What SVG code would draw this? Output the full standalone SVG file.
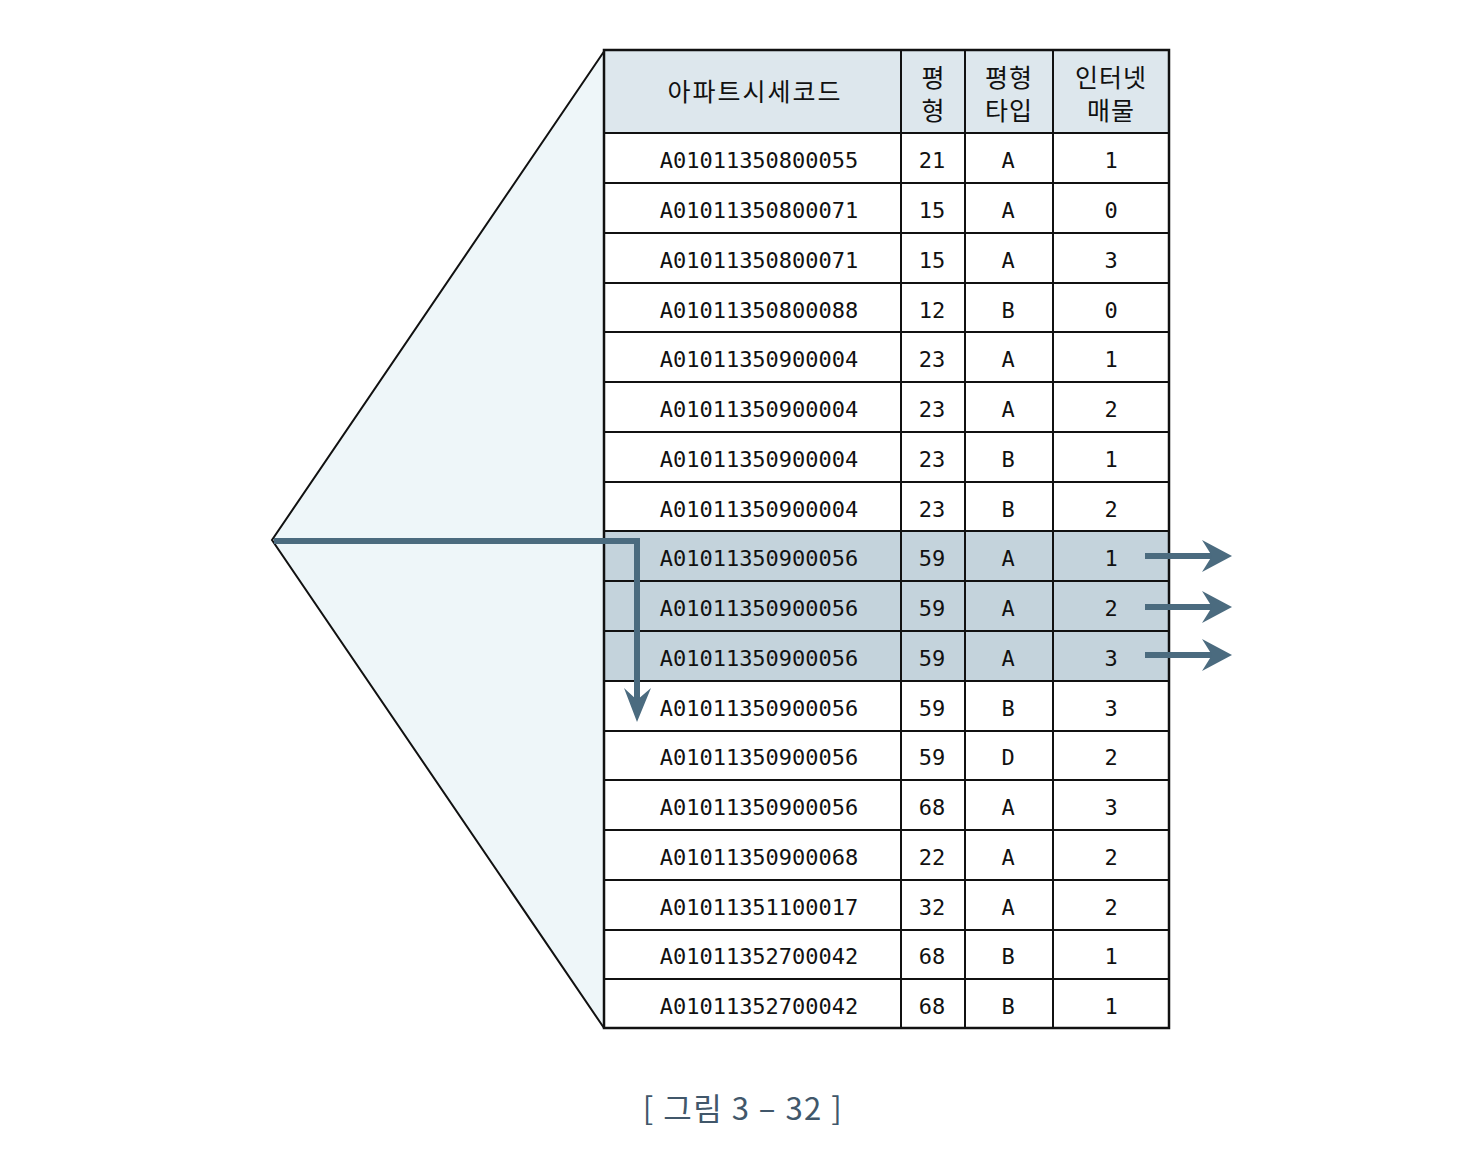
<svg xmlns="http://www.w3.org/2000/svg" width="1476" height="1166" viewBox="0 0 1476 1166">
<style>
.t{font-family:"DejaVu Sans Mono","Liberation Mono",monospace;font-size:22px;fill:#111;text-anchor:middle}
.h{font-family:"Noto Sans CJK KR","Noto Sans",sans-serif;font-size:25px;fill:#111;text-anchor:middle}
.g{stroke:#111;stroke-width:2;fill:none}
.arr{stroke:#4b6b7f;stroke-width:6;fill:none}
.ah{fill:#4b6b7f}
.cap{font-family:"Noto Sans CJK KR","Noto Sans",sans-serif;font-size:31px;fill:#41576a;text-anchor:middle}
</style>
<rect width="1476" height="1166" fill="#fff"/>
<g id="funnel">
<polygon points="272,540 605,50 605,1028" fill="#eef6f9"/>
<polyline points="605,50 272,540 604,1028" fill="none" stroke="#111" stroke-width="2"/>
</g>
<g id="table">
<rect x="604" y="50" width="565" height="83" fill="#dde7ed"/>
<rect x="604" y="133" width="565" height="895" fill="#fff"/>
<rect x="604" y="531" width="565" height="150" fill="#c4d3dc"/>
<g class="g">
<rect x="604" y="50" width="565" height="978" stroke-width="2.5"/>
<line x1="901" y1="50" x2="901" y2="1028"/>
<line x1="965" y1="50" x2="965" y2="1028"/>
<line x1="1053" y1="50" x2="1053" y2="1028"/>
<line x1="604" y1="133" x2="1169" y2="133"/>
<line x1="604" y1="183" x2="1169" y2="183"/>
<line x1="604" y1="233" x2="1169" y2="233"/>
<line x1="604" y1="283" x2="1169" y2="283"/>
<line x1="604" y1="332" x2="1169" y2="332"/>
<line x1="604" y1="382" x2="1169" y2="382"/>
<line x1="604" y1="432" x2="1169" y2="432"/>
<line x1="604" y1="482" x2="1169" y2="482"/>
<line x1="604" y1="531" x2="1169" y2="531"/>
<line x1="604" y1="581" x2="1169" y2="581"/>
<line x1="604" y1="631" x2="1169" y2="631"/>
<line x1="604" y1="681" x2="1169" y2="681"/>
<line x1="604" y1="731" x2="1169" y2="731"/>
<line x1="604" y1="780" x2="1169" y2="780"/>
<line x1="604" y1="830" x2="1169" y2="830"/>
<line x1="604" y1="880" x2="1169" y2="880"/>
<line x1="604" y1="930" x2="1169" y2="930"/>
<line x1="604" y1="979" x2="1169" y2="979"/>
</g>
<g id="header">
<text class="h" x="755" y="101" letter-spacing="2">아파트시세코드</text>
<text class="h" x="933" y="87">평</text>
<text class="h" x="933" y="120">형</text>
<text class="h" x="1009" y="87" letter-spacing="1">평형</text>
<text class="h" x="1009" y="120" letter-spacing="1">타입</text>
<text class="h" x="1111" y="87" letter-spacing="1">인터넷</text>
<text class="h" x="1111" y="120" letter-spacing="1">매물</text>
</g>
<g id="rows">
<text class="t" x="759" y="168">A01011350800055</text><text class="t" x="932" y="168">21</text><text class="t" x="1008" y="168">A</text><text class="t" x="1111" y="168">1</text>
<text class="t" x="759" y="218">A01011350800071</text><text class="t" x="932" y="218">15</text><text class="t" x="1008" y="218">A</text><text class="t" x="1111" y="218">0</text>
<text class="t" x="759" y="268">A01011350800071</text><text class="t" x="932" y="268">15</text><text class="t" x="1008" y="268">A</text><text class="t" x="1111" y="268">3</text>
<text class="t" x="759" y="318">A01011350800088</text><text class="t" x="932" y="318">12</text><text class="t" x="1008" y="318">B</text><text class="t" x="1111" y="318">0</text>
<text class="t" x="759" y="367">A01011350900004</text><text class="t" x="932" y="367">23</text><text class="t" x="1008" y="367">A</text><text class="t" x="1111" y="367">1</text>
<text class="t" x="759" y="417">A01011350900004</text><text class="t" x="932" y="417">23</text><text class="t" x="1008" y="417">A</text><text class="t" x="1111" y="417">2</text>
<text class="t" x="759" y="467">A01011350900004</text><text class="t" x="932" y="467">23</text><text class="t" x="1008" y="467">B</text><text class="t" x="1111" y="467">1</text>
<text class="t" x="759" y="517">A01011350900004</text><text class="t" x="932" y="517">23</text><text class="t" x="1008" y="517">B</text><text class="t" x="1111" y="517">2</text>
<text class="t" x="759" y="566">A01011350900056</text><text class="t" x="932" y="566">59</text><text class="t" x="1008" y="566">A</text><text class="t" x="1111" y="566">1</text>
<text class="t" x="759" y="616">A01011350900056</text><text class="t" x="932" y="616">59</text><text class="t" x="1008" y="616">A</text><text class="t" x="1111" y="616">2</text>
<text class="t" x="759" y="666">A01011350900056</text><text class="t" x="932" y="666">59</text><text class="t" x="1008" y="666">A</text><text class="t" x="1111" y="666">3</text>
<text class="t" x="759" y="716">A01011350900056</text><text class="t" x="932" y="716">59</text><text class="t" x="1008" y="716">B</text><text class="t" x="1111" y="716">3</text>
<text class="t" x="759" y="765">A01011350900056</text><text class="t" x="932" y="765">59</text><text class="t" x="1008" y="765">D</text><text class="t" x="1111" y="765">2</text>
<text class="t" x="759" y="815">A01011350900056</text><text class="t" x="932" y="815">68</text><text class="t" x="1008" y="815">A</text><text class="t" x="1111" y="815">3</text>
<text class="t" x="759" y="865">A01011350900068</text><text class="t" x="932" y="865">22</text><text class="t" x="1008" y="865">A</text><text class="t" x="1111" y="865">2</text>
<text class="t" x="759" y="915">A01011351100017</text><text class="t" x="932" y="915">32</text><text class="t" x="1008" y="915">A</text><text class="t" x="1111" y="915">2</text>
<text class="t" x="759" y="964">A01011352700042</text><text class="t" x="932" y="964">68</text><text class="t" x="1008" y="964">B</text><text class="t" x="1111" y="964">1</text>
<text class="t" x="759" y="1014">A01011352700042</text><text class="t" x="932" y="1014">68</text><text class="t" x="1008" y="1014">B</text><text class="t" x="1111" y="1014">1</text>
</g>
</g>
<g id="connectors">
<polyline class="arr" points="274,541 637,541 637,700"/>
<polygon class="ah" points="637,722 624,688 637,700 651,688"/>
<line class="arr" x1="1145" y1="556" x2="1214" y2="556"/>
<polygon class="ah" points="1232,556 1202,540 1212,556 1202,572"/>
<line class="arr" x1="1145" y1="607" x2="1214" y2="607"/>
<polygon class="ah" points="1232,607 1202,591 1212,607 1202,623"/>
<line class="arr" x1="1145" y1="655" x2="1214" y2="655"/>
<polygon class="ah" points="1232,655 1202,639 1212,655 1202,671"/>
</g>
<text class="cap" x="743" y="1120" letter-spacing="1.5">[ 그림 3 – 32 ]</text>
</svg>
